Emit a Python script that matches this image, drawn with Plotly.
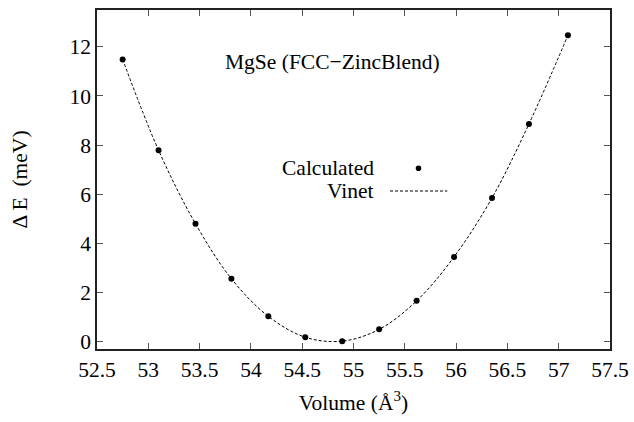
import plotly.graph_objects as go

# Data
volume = [52.75, 53.10, 53.46, 53.81, 54.17, 54.53, 54.89, 55.25, 55.615, 55.98, 56.35, 56.71, 57.09]
delta_e = [11.49, 7.79, 4.80, 2.56, 1.03, 0.18, 0.02, 0.50, 1.66, 3.45, 5.85, 8.86, 12.47]

x_ticks = [52.5, 53, 53.5, 54, 54.5, 55, 55.5, 56, 56.5, 57, 57.5]
x_tick_labels = ["52.5", "53", "53.5", "54", "54.5", "55", "55.5", "56", "56.5", "57", "57.5"]
y_ticks = [0, 2, 4, 6, 8, 10, 12]
y_tick_labels = ["0", "2", "4", "6", "8", "10", "12"]

FONT = "Liberation Serif"
FS = 21.5
TXT = dict(family=FONT, size=FS, color="black")

fig = go.Figure()
fig.add_trace(go.Scatter(
    x=volume, y=delta_e, mode="lines", name="Vinet",
    line=dict(color="black", width=1, dash="3px,2px", shape="spline", smoothing=1.0),
    showlegend=False,
))
fig.add_trace(go.Scatter(
    x=volume, y=delta_e, mode="markers", name="Calculated",
    marker=dict(color="black", size=6),
    showlegend=False,
))

axis_common = dict(
    showgrid=False, zeroline=False, showline=True, linecolor="#222", linewidth=1.5,
    mirror="allticks", ticks="inside", ticklen=6, tickwidth=1.2, tickcolor="#555",
    tickfont=TXT, automargin=False,
)
fig.update_xaxes(range=[52.5, 57.5], tickvals=x_ticks, ticktext=x_tick_labels,
                 title=dict(text="Volume (Å<sup>3</sup>)", font=TXT, standoff=14),
                 **axis_common)
fig.update_yaxes(range=[-0.3, 13.5], tickvals=y_ticks, ticktext=y_tick_labels,
                 title=dict(text="Δ\u2009E\u00a0\u00a0(meV)", font=TXT, standoff=36),
                 **axis_common)

fig.add_annotation(x=54.8, y=11.38, xref="x", yref="y", text="MgSe (FCC−ZincBlend)",
                   showarrow=False, font=TXT)

# legend (text right-aligned, key on the right, as in the reference)
leg_x_text = (375.7 - 97) / 513
leg_y1 = (349 - 168.3) / 339
leg_y2 = (349 - 191) / 339
fig.add_annotation(x=leg_x_text, y=leg_y1, xref="paper", yref="paper", text="Calculated",
                   showarrow=False, xanchor="right", yanchor="middle", font=TXT)
fig.add_annotation(x=leg_x_text, y=leg_y2, xref="paper", yref="paper", text="Vinet",
                   showarrow=False, xanchor="right", yanchor="middle", font=TXT)
key_cx = (418.5 - 97) / 513
r_x = 2.8 / 513
r_y = 2.8 / 339
fig.add_shape(type="circle", xref="paper", yref="paper",
              x0=key_cx - r_x, x1=key_cx + r_x, y0=leg_y1 - r_y, y1=leg_y1 + r_y,
              fillcolor="black", line=dict(color="black", width=0))
fig.add_shape(type="line", xref="paper", yref="paper",
              x0=(390 - 97) / 513, x1=(447.3 - 97) / 513, y0=leg_y2, y1=leg_y2,
              line=dict(color="black", width=1, dash="3px,2px"))

fig.update_layout(
    template="none",
    width=634, height=422,
    margin=dict(l=97, r=24, t=10, b=73),
    paper_bgcolor="white", plot_bgcolor="white",
    showlegend=False,
)

fig.write_html("out.html", config={"displayModeBar": False},
               post_script="document.body.style.margin='0';")
